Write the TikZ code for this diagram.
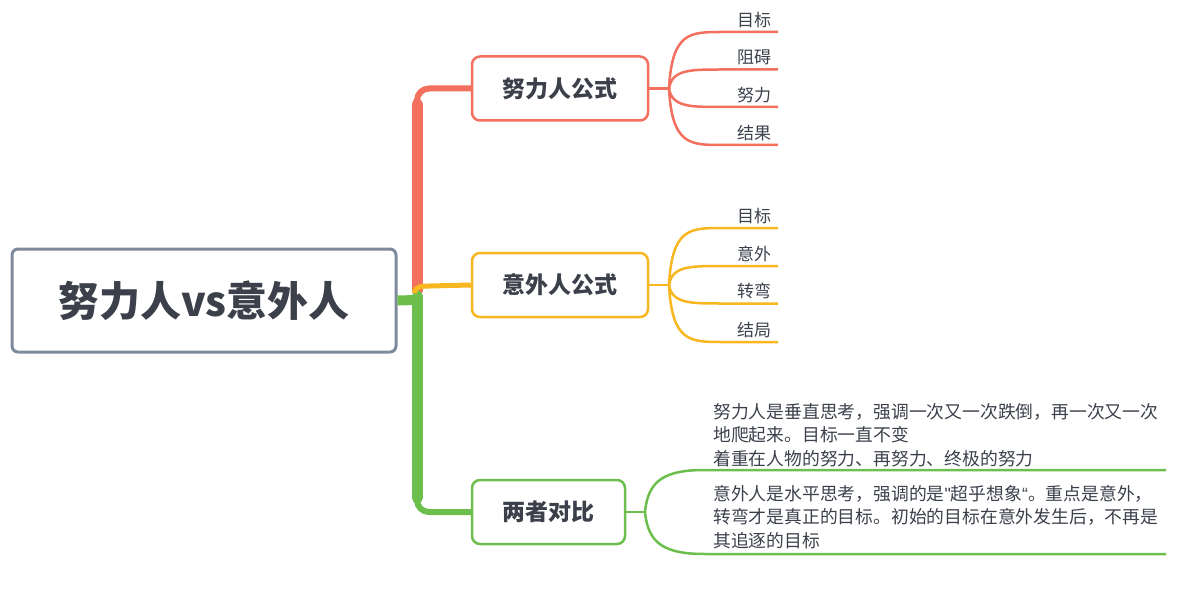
\documentclass[tikz,border=0pt]{standalone}
\usepackage{fontspec}
\setmainfont{Noto Sans CJK SC}
\newfontfamily\latinq{Liberation Sans}
\definecolor{cred}{HTML}{F36F5E}
\definecolor{cyel}{HTML}{F8B620}
\definecolor{cgrn}{HTML}{6CBF4C}
\definecolor{cgray}{HTML}{7F899C}
\definecolor{ctext}{HTML}{3B404B}
\begin{document}
\begin{tikzpicture}[x=1pt,y=-1pt,
  rootbox/.style={draw=cgray, line width=3pt, rounded corners=6pt, fill=white,
    minimum width=384pt, minimum height=103pt, inner sep=0pt, text=ctext,
    font=\fontsize{41}{48}\selectfont\bfseries},
  topicbox/.style={line width=2.5pt, rounded corners=8pt, fill=white,
    minimum height=64pt, inner sep=0pt, text=ctext,
    font=\fontsize{23}{28}\selectfont\bfseries},
  leaf/.style={anchor=south, inner sep=0pt, text=ctext, font=\fontsize{17}{20}\selectfont},
  note/.style={anchor=north west, inner sep=0pt, align=left, text=ctext,
    font=\fontsize{17.8}{23.5}\selectfont},
  sub/.style={line width=2.5pt},
]
\useasboundingbox (0,0) rectangle (1200,599);

\node[rootbox] (root) at (204,300.5) {努力人vs意外人};
\node[topicbox, draw=cred, minimum width=176pt] (b1) at (560,88.5) {努力人公式};
\node[topicbox, draw=cyel, minimum width=176pt] (b2) at (560,285) {意外人公式};
\node[topicbox, draw=cgrn, minimum width=153pt] (b3) at (548.5,512) {两者对比};

\coordinate (tr) at (417,300);
\coordinate (tt) at (417,291);
% red branch
\draw[cred, line width=6pt, rounded corners=12pt] (tt) |- (b1.west);
\draw[cred, line width=11pt, line cap=round] (tt) -- (417,104);
% green branch
\draw[cgrn, line width=6pt, rounded corners=12pt] (tt) |- (b3.west);
\draw[cgrn, line width=11pt, line cap=round] (417,296) -- (417,498);
\draw[cgrn, line width=10pt] (root.east) -- (tr);
% yellow branch
\draw[cyel, line width=5pt] (414,293) .. controls (415,287) and (420,286) .. (430,286) -- (b2.west);

% leaves of b1
\coordinate (s1) at (669,88.5);
\draw[cred, sub] (b1.east) -- (s1);
\foreach \t/\lab [count=\i] in {32/目标,69.5/阻碍,107/努力,145/结果}{
  \coordinate (e1\i) at (778,\t);
  \draw[cred, sub] (s1) .. controls (672,\t) and (690,\t) .. (722,\t) -- (e1\i);
  \node[leaf] (l1\i) at (754,\t-4) {\lab};
}
% leaves of b2
\coordinate (s2) at (669,285);
\draw[cyel, sub] (b2.east) -- (s2);
\foreach \t/\lab [count=\i] in {228/目标,266/意外,303.5/转弯,342/结局}{
  \coordinate (e2\i) at (778,\t);
  \draw[cyel, sub] (s2) .. controls (672,\t) and (690,\t) .. (722,\t) -- (e2\i);
  \node[leaf] (l2\i) at (754,\t-4) {\lab};
}
% notes of b3
\coordinate (s3) at (645,512);
\draw[cgrn, sub] (b3.east) -- (s3);
\coordinate (e31) at (1166,470);
\coordinate (e32) at (1166,554);
\draw[cgrn, sub] (s3) .. controls (648,480) and (665,470) .. (705,470) -- (e31);
\draw[cgrn, sub] (s3) .. controls (648,544) and (665,554) .. (705,554) -- (e32);
\node[note] (n1) at (713,403) {努力人是垂直思考，强调一次又一次跌倒，再一次又一次\\地爬起来。目标一直不变\\着重在人物的努力、再努力、终极的努力};
\node[note] (n2) at (713,485) {意外人是水平思考，强调的是{\latinq"}超乎想象{\latinq“}。重点是意外，\\转弯才是真正的目标。初始的目标在意外发生后，不再是\\其追逐的目标};
\end{tikzpicture}
\end{document}
